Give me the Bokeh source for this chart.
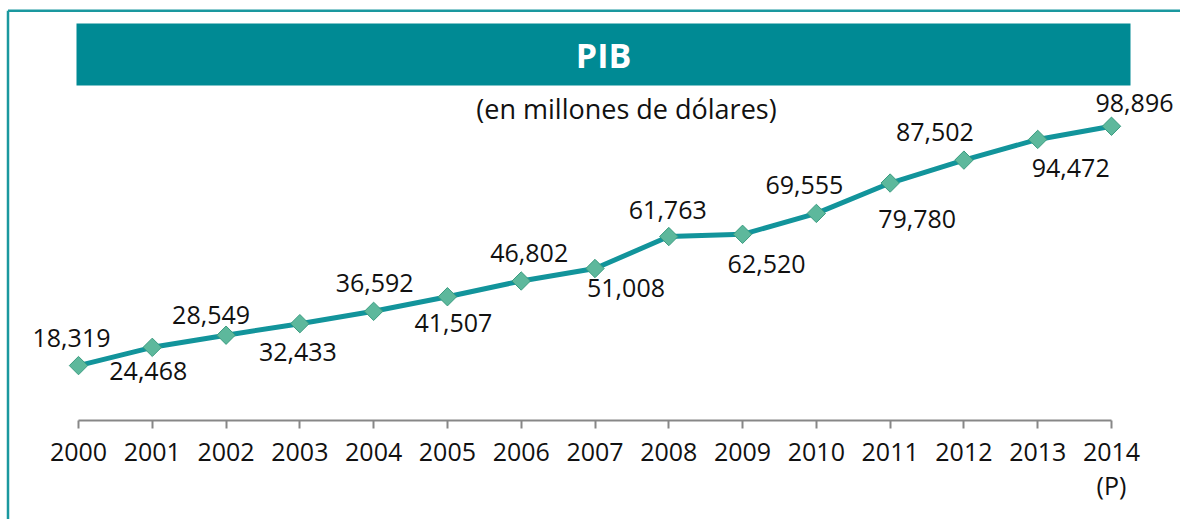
import numpy as np
from bokeh.plotting import figure
from bokeh.models import Range1d, LinearAxis, FixedTicker, ColumnDataSource, Label
from bokeh.core.properties import value
from bokeh.embed import file_html
from bokeh.resources import INLINE

# ---- data ----
years = [2000, 2001, 2002, 2003, 2004, 2005, 2006, 2007, 2008, 2009, 2010, 2011, 2012, 2013, 2014]
pib = [18319, 24468, 28549, 32433, 36592, 41507, 46802, 51008, 61763, 62520, 69555, 79780, 87502, 94472, 98896]
value_labels = ["18,319", "24,468", "28,549", "32,433", "36,592", "41,507", "46,802", "51,008",
                "61,763", "62,520", "69,555", "79,780", "87,502", "94,472", "98,896"]
tick_labels = {2014: "2014\n(P)"}
title_text = "PIB"
subtitle_text = "(en millones de dólares)"

# ---- layout (label offsets in screen px, relative to point) ----
label_dx = [-7, -4, -15, -2, 1, 6, 8, 31, -1, 24, -12, 27, -29, 33, 23]
label_dy = [-28, 24, -20, 28, -28, 26, -28, 19, -27, 30, -28, 36, -28, 29, -23]

W, H = 1180, 519
FONT = "Open Sans"
TEAL = "#008A94"
LINE = "#12949B"
BORDER = "#1A989F"
TXT = "#111111"

PX_PER_YEAR = (1111 - 78) / 14.0
UNITS_PER_PX = 336.7
xs = 2000 - 78 / PX_PER_YEAR
xe = xs + W / PX_PER_YEAR
ye = 419.5 * UNITS_PER_PX
ys = -(H - 419.5) * UNITS_PER_PX

def X(px):  # screen px -> data x
    return xs + px * (xe - xs) / W

def Y(py):  # screen px -> data y
    return ye - py * (ye - ys) / H

p = figure(width=W, height=H, output_backend="svg", toolbar_location=None,
           x_range=Range1d(xs, xe), y_range=Range1d(ys, ye),
           x_axis_location=None, y_axis_location=None,
           min_border=0, min_border_left=0, min_border_right=0,
           min_border_top=0, min_border_bottom=0)
p.outline_line_color = None
p.grid.visible = False
p.background_fill_color = "white"
p.border_fill_color = "white"

# frame border (top + left)
p.segment(x0=[X(7.5), X(7.5)], y0=[Y(10.3), Y(10.3)], x1=[X(7.5), X(1190)], y1=[Y(530), Y(10.3)],
          line_color=BORDER, line_width=2.5)

# title bar
p.quad(left=[X(76)], right=[X(1130)], top=[Y(23)], bottom=[Y(85)],
       fill_color=TEAL, line_color=None)
p.add_layout(Label(x=X(603), y=Y(54), text=title_text, text_align="center",
                   text_baseline="alphabetic", text_color="white", text_font=FONT,
                   text_font_size="34px", text_font_style="bold"))
p.add_layout(Label(x=X(626), y=Y(107.5), text=subtitle_text, text_align="center",
                   text_baseline="alphabetic", text_color=TXT, text_font=FONT,
                   text_font_size="27px"))

# x axis at y = 0
ax = LinearAxis(fixed_location=0)
ax.ticker = FixedTicker(ticks=years)
ax.bounds = (years[0], years[-1])
ax.major_label_overrides = tick_labels
ax.axis_line_color = "#878787"
ax.axis_line_width = 2
ax.major_tick_line_color = "#878787"
ax.major_tick_line_width = 2
ax.major_tick_in = 0
ax.major_tick_out = 8
ax.minor_tick_line_color = None
ax.major_label_text_font = FONT
ax.major_label_text_font_size = "25px"
ax.major_label_text_color = TXT
ax.major_label_text_line_height = 1.0
ax.major_label_standoff = 6
p.add_layout(ax, "below")

src = ColumnDataSource(dict(x=years, y=pib, t=value_labels, dx=label_dx, dy=label_dy))

p.line("x", "y", source=src, line_color=LINE, line_width=5)
p.scatter("x", "y", source=src, marker="square", angle=np.pi / 4, size=13,
          fill_color="#5DB89C", line_color="#3A9C80", line_width=1)
p.text("x", "y", text="t", source=src, x_offset="dx", y_offset="dy",
       text_align="center", text_baseline="alphabetic", text_color=TXT,
       text_font=value(FONT), text_font_size="25px")

open("out.html", "w").write(file_html(p, INLINE))
